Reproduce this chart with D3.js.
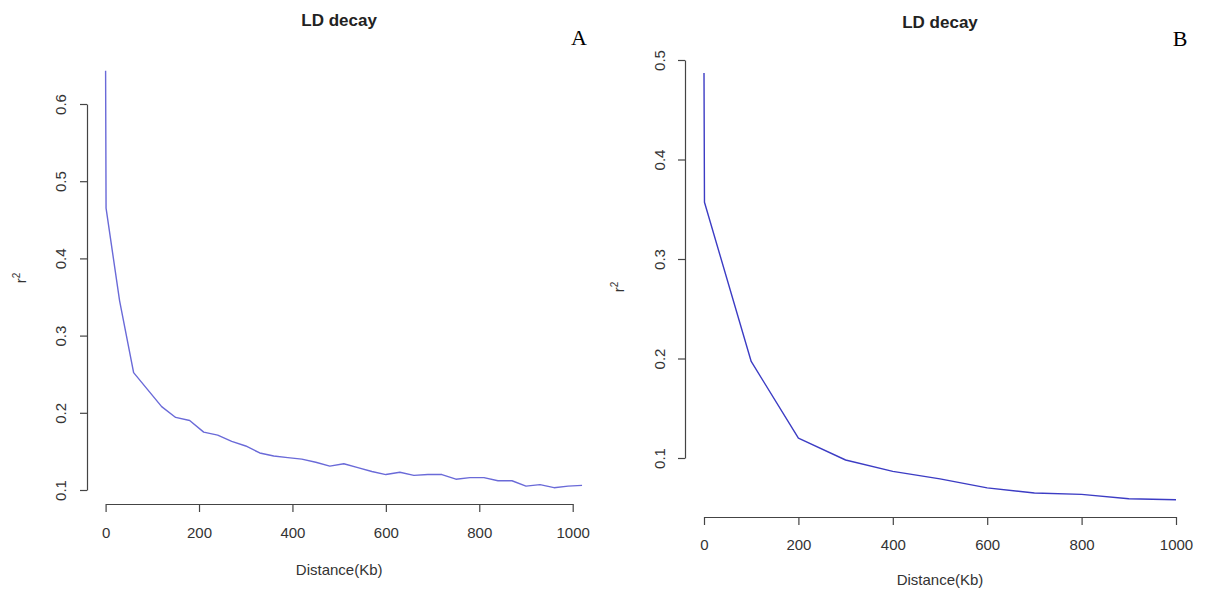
<!DOCTYPE html>
<html>
<head>
<meta charset="utf-8">
<script src="https://cdn.jsdelivr.net/npm/d3@7"></script>
<style>
  body { margin: 0; background: #fff; }
  text { font-family: "Liberation Sans", Arial, Helvetica, sans-serif; }
</style>
</head>
<body>
<svg id="chart" width="1205" height="590"></svg>
<script>
// panel A: LD decay, 30 kb bins
var distA = [0, 1, 30, 60, 90, 120, 150, 180, 210, 240, 270, 300, 330, 360, 390, 420, 450, 480, 510,
	540, 570, 600, 630, 660, 690, 720, 750, 780, 810, 840, 870, 900, 930, 960, 990, 1020];
var r2A = [0.643, 0.465, 0.345, 0.252, 0.230, 0.208, 0.194, 0.190, 0.175, 0.171, 0.163, 0.157, 0.148, 0.144,
	0.142, 0.140, 0.136, 0.131, 0.134, 0.129, 0.124, 0.120, 0.123, 0.119, 0.120, 0.120, 0.114, 0.116,
	0.116, 0.112, 0.112, 0.105, 0.107, 0.103, 0.105, 0.106];

// panel B: LD decay, 100 kb bins
var distB = [0, 1, 100, 200, 300, 400, 500, 600, 700, 800, 900, 1000];
var r2B = [0.487, 0.357, 0.197, 0.120, 0.098, 0.0866, 0.079, 0.070, 0.0648, 0.0634, 0.059, 0.058];

var xTicks = [0, 200, 400, 600, 800, 1000];
var yTicksA = [0.1, 0.2, 0.3, 0.4, 0.5, 0.6];
var yTicksB = [0.1, 0.2, 0.3, 0.4, 0.5];

var svg = d3.select("#chart");

function panel(p)
{
	var data = p.dist.map(function(d, i) { return { x: d, y: p.r2[i] } });
	var x = d3.scaleLinear().domain([0, 1000]).range(p.xr);
	var y = d3.scaleLinear().domain([p.yTicks[0], p.yTicks[p.yTicks.length - 1]]).range(p.yr);

	var g = svg.append("g");

	var xa = g.append("g")
		.attr("transform", "translate(0," + p.xAxisY + ")")
		.call(d3.axisBottom(x).tickValues(xTicks).tickSize(8).tickSizeOuter(0).tickFormat(d3.format("d")));
	xa.selectAll("path, line").attr("stroke", "#444").attr("stroke-width", 1.2);
	xa.selectAll("text")
		.attr("y", p.xLabOff).attr("dy", 0)
		.attr("font-size", 15).attr("fill", "#333")
		.style("font-family", "Liberation Sans, Arial, sans-serif");

	var ya = g.append("g")
		.attr("transform", "translate(" + p.yAxisX + ",0)")
		.call(d3.axisLeft(y).tickValues(p.yTicks).tickSize(7).tickSizeOuter(0).tickFormat(d3.format(".1f")));
	ya.selectAll("path, line").attr("stroke", "#444").attr("stroke-width", 1.2);
	ya.selectAll("text")
		.attr("transform", "rotate(-90)")
		.attr("x", 0).attr("y", -p.yLabOff).attr("dy", 0)
		.attr("text-anchor", "middle")
		.attr("font-size", 15).attr("fill", "#333")
		.style("font-family", "Liberation Sans, Arial, sans-serif");

	g.append("path")
		.datum(data)
		.attr("fill", "none")
		.attr("stroke", p.color)
		.attr("stroke-width", 1.4)
		.attr("stroke-linejoin", "round")
		.attr("d", d3.line().x(function(d) { return x(d.x) }).y(function(d) { return y(d.y) }));

	g.append("text")
		.attr("x", (p.xr[0] + p.xr[1]) / 2).attr("y", p.titleY)
		.attr("text-anchor", "middle")
		.attr("font-size", 17).attr("font-weight", "bold").attr("fill", "#222")
		.text("LD decay");

	g.append("text")
		.attr("x", (p.xr[0] + p.xr[1]) / 2).attr("y", p.xTitleY)
		.attr("text-anchor", "middle")
		.attr("font-size", 15).attr("fill", "#333")
		.text("Distance(Kb)");

	var yl = g.append("text")
		.attr("transform", "translate(" + p.yTitle[0] + "," + p.yTitle[1] + ") rotate(-90)")
		.attr("text-anchor", "middle")
		.attr("font-size", 15).attr("fill", "#333");
	yl.append("tspan").text("r");
	yl.append("tspan").attr("dy", -6).attr("font-size", 10).text("2");

	g.append("text")
		.attr("x", p.letter[0]).attr("y", p.letter[1])
		.attr("text-anchor", "middle")
		.attr("font-size", 22).attr("fill", "#000")
		.style("font-family", "Liberation Serif, Times New Roman, serif")
		.text(p.name);
}

panel({ name: "A", dist: distA, r2: r2A, yTicks: yTicksA, color: "#6a6ad8",
	xr: [105.6, 572.7], yr: [490, 104], xAxisY: 504, yAxisX: 87, xLabOff: 34, yLabOff: 21.5,
	titleY: 26, xTitleY: 575, yTitle: [26, 278], letter: [579, 45] });

panel({ name: "B", dist: distB, r2: r2B, yTicks: yTicksB, color: "#3c3cc4",
	xr: [704, 1176], yr: [458, 60], xAxisY: 517, yAxisX: 685, xLabOff: 33, yLabOff: 20.5,
	titleY: 28, xTitleY: 585, yTitle: [624, 287], letter: [1180, 46] });
</script>
</body>
</html>
